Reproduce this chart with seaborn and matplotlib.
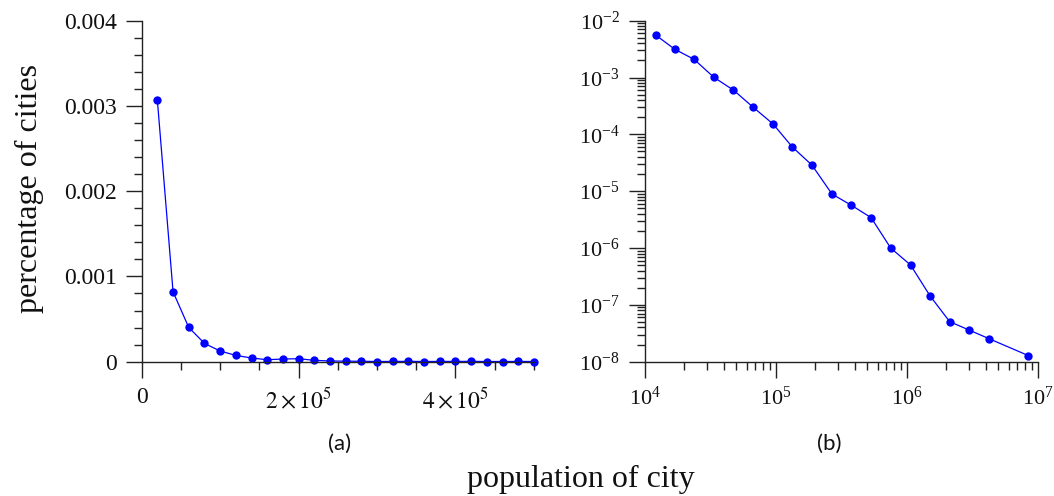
import matplotlib
matplotlib.use("Agg")
import matplotlib.pyplot as plt
import matplotlib.ticker as mticker
import seaborn as sns

# Linear-bin distribution of city sizes
lin_population = [20000, 40000, 60000, 80000, 100000, 120000, 140000, 160000,
                  180000, 200000, 220000, 240000, 260000, 280000, 300000,
                  320000, 340000, 360000, 380000, 400000, 420000, 440000,
                  460000, 480000, 500000]
lin_share = [0.00307, 0.00082, 0.000402, 0.000215, 0.000125, 0.000074,
             0.000043, 0.000023, 0.000031, 0.000035, 0.000016, 0.000008,
             0.000006, 0.000005, 0.000002, 0.000003, 0.000004, 0.000002,
             0.000003, 0.000003, 0.000004, 0.000002, 0.000002, 0.000003,
             0.000002]

# Logarithmic-bin distribution of city sizes
log_population = [1.21e4, 1.70e4, 2.38e4, 3.37e4, 4.76e4, 6.75e4, 9.55e4,
                  1.34e5, 1.89e5, 2.69e5, 3.79e5, 5.35e5, 7.55e5, 1.07e6,
                  1.51e6, 2.13e6, 3.00e6, 4.25e6, 8.49e6]
log_share = [5.6e-3, 3.13e-3, 2.09e-3, 1.01e-3, 6.0e-4, 2.98e-4, 1.52e-4,
             5.98e-5, 2.88e-5, 8.9e-6, 5.64e-6, 3.42e-6, 1.0e-6, 5.03e-7,
             1.43e-7, 5.06e-8, 3.6e-8, 2.54e-8, 1.28e-8]

lin_xticks = [0, 200000, 400000]
lin_xticklabels = ["0", r"$2\times10^{5}$", r"$4\times10^{5}$"]
lin_yticks = [0, 0.001, 0.002, 0.003, 0.004]
lin_yticklabels = ["0", "0.001", "0.002", "0.003", "0.004"]
panel_tags = ["(a)", "(b)"]

sns.set_style("ticks")
plt.rcParams["font.family"] = ["Liberation Serif", "DejaVu Serif"]
plt.rcParams["mathtext.fontset"] = "stix"

INK = "#222222"
BLUE = "#0000ff"

fig = plt.figure(figsize=(10.54, 4.96), dpi=100)
ax_a = fig.add_axes([0.1344, 0.2708, 0.3722, 0.6875])
ax_b = fig.add_axes([0.6117, 0.2708, 0.3728, 0.6875])

line_kw = dict(color=BLUE, marker="o", markersize=6.0, markeredgewidth=0,
               linewidth=0.9, clip_on=False)

sns.lineplot(x=lin_population, y=lin_share, ax=ax_a, **line_kw)
ax_b.set_xscale("log")
ax_b.set_yscale("log")
sns.lineplot(x=log_population, y=log_share, ax=ax_b, **line_kw)

# Panel (a): linear axes
ax_a.set_xlim(0, 500000)
ax_a.set_ylim(0, 0.004)
ax_a.xaxis.set_major_locator(mticker.FixedLocator(lin_xticks))
ax_a.xaxis.set_major_formatter(mticker.FixedFormatter(lin_xticklabels))
ax_a.xaxis.set_minor_locator(mticker.MultipleLocator(50000))
ax_a.yaxis.set_major_locator(mticker.FixedLocator(lin_yticks))
ax_a.yaxis.set_major_formatter(mticker.FixedFormatter(lin_yticklabels))
ax_a.yaxis.set_minor_locator(mticker.MultipleLocator(0.0002))

# Panel (b): log-log axes
ax_b.set_xlim(1e4, 1e7)
ax_b.set_ylim(1e-8, 1e-2)
ax_b.xaxis.set_major_locator(mticker.LogLocator(base=10, numticks=10))
ax_b.xaxis.set_minor_locator(mticker.LogLocator(base=10, subs=range(2, 10), numticks=20))
ax_b.xaxis.set_minor_formatter(mticker.NullFormatter())
ax_b.yaxis.set_major_locator(mticker.LogLocator(base=10, numticks=10))
ax_b.yaxis.set_minor_locator(mticker.LogLocator(base=10, subs=range(2, 10), numticks=20))
ax_b.yaxis.set_minor_formatter(mticker.NullFormatter())

for ax, lsize in ((ax_a, 17), (ax_b, 16)):
    sns.despine(ax=ax)
    ax.set_xlabel("")
    ax.set_ylabel("")
    for side in ("left", "bottom"):
        ax.spines[side].set_color(INK)
        ax.spines[side].set_linewidth(1.0)
    ax.tick_params(which="major", direction="out", length=11.5, width=1.0,
                   color=INK, labelsize=lsize, labelcolor="#111111", pad=6.5)
    ax.tick_params(which="minor", direction="out", length=5.8, width=1.0,
                   color=INK)

fig.text(0.028, 0.62, "percentage of cities", rotation=90, ha="center",
         va="center", fontsize=23, color="#111111")
fig.text(0.551, 0.018, "population of city", ha="center", va="baseline",
         fontsize=23, color="#111111")
fig.text(0.322, 0.106, panel_tags[0], ha="center", va="center", fontsize=16,
         family=["Lato", "DejaVu Sans"], color="#111111")
fig.text(0.787, 0.106, panel_tags[1], ha="center", va="center", fontsize=16,
         family=["Lato", "DejaVu Sans"], color="#111111")

fig.savefig("out.png", dpi=100)
